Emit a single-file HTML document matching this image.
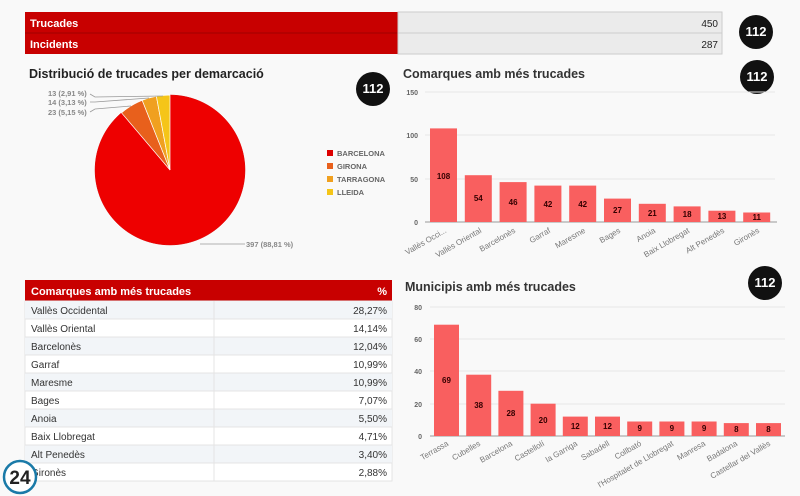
<!DOCTYPE html>
<html><head><meta charset="utf-8"><style>
body{margin:0;width:800px;height:496px;background:#f9f9f9;overflow:hidden;font-family:"Liberation Sans",sans-serif}
svg{position:absolute;left:0;top:0}
</style></head><body>
<svg width="800" height="496" viewBox="0 0 800 496" font-family="Liberation Sans, sans-serif">
<rect width="800" height="496" fill="#f9f9f9"/>
<rect x="25" y="12" width="373" height="42" fill="#c80000"/>
<line x1="25" y1="33" x2="398" y2="33" stroke="#a00000"/>
<rect x="398" y="12" width="324" height="42" fill="#ebebeb" stroke="#ccc"/>
<line x1="398" y1="33" x2="722" y2="33" stroke="#ccc"/>
<text x="30" y="27" fill="#fff" font-size="11" font-weight="bold">Trucades</text>
<text x="30" y="48" fill="#fff" font-size="11" font-weight="bold">Incidents</text>
<text x="718" y="27" fill="#222" font-size="10" text-anchor="end">450</text>
<text x="718" y="48" fill="#222" font-size="10" text-anchor="end">287</text>
<g font-weight="bold" fill="#fff" text-anchor="middle">
<circle cx="756" cy="32" r="17" fill="#111"/><text x="756" y="36" font-size="13">112</text>
<circle cx="373" cy="89" r="17" fill="#111"/><text x="373" y="93" font-size="13">112</text>
<circle cx="757" cy="77" r="17" fill="#111"/><text x="757" y="81" font-size="13">112</text>
<circle cx="765" cy="283" r="17" fill="#111"/><text x="765" y="287" font-size="13">112</text>
</g>
<text x="29" y="78" font-size="12.5" font-weight="bold" fill="#222">Distribució de trucades per demarcació</text>
<path d="M170,170 L170,95 A75,75 0 1 1 121.5,112.8 Z" fill="#ee0000" stroke="#d00" stroke-width="0.5"/>
<path d="M170,170 L121.5,112.8 A75,75 0 0 1 142.2,100.3 Z" fill="#e8601c" stroke="#fff" stroke-width="0.7"/>
<path d="M170,170 L142.2,100.3 A75,75 0 0 1 156.4,96.3 Z" fill="#f0a020" stroke="#fff" stroke-width="0.7"/>
<path d="M170,170 L156.4,96.3 A75,75 0 0 1 170,95 Z" fill="#f5c518" stroke="#fff" stroke-width="0.7"/>
<g stroke="#999" fill="none" stroke-width="0.8">
<polyline points="163,96 95,97 90,94"/><polyline points="149,98 95,102 90,102"/><polyline points="131,106 95,109 90,112"/>
<polyline points="200,244 245,244"/></g>
<g font-size="7.5" fill="#888" font-weight="bold">
<text x="48" y="96">13 (2,91 %)</text><text x="48" y="105">14 (3,13 %)</text><text x="48" y="115">23 (5,15 %)</text>
<text x="246" y="247">397 (88,81 %)</text></g>
<g font-size="7.5" fill="#666" font-weight="bold">
<rect x="327" y="150" width="6" height="6" fill="#dd0000"/><text x="337" y="156">BARCELONA</text>
<rect x="327" y="163" width="6" height="6" fill="#e8601c"/><text x="337" y="169">GIRONA</text>
<rect x="327" y="176" width="6" height="6" fill="#f0a020"/><text x="337" y="182">TARRAGONA</text>
<rect x="327" y="189" width="6" height="6" fill="#f5c518"/><text x="337" y="195">LLEIDA</text></g>
<text x="403" y="78" font-size="12.5" font-weight="bold" fill="#333">Comarques amb més trucades</text>
<g stroke="#e6e6e6"><line x1="425" y1="92" x2="775" y2="92"/><line x1="425" y1="135" x2="775" y2="135"/><line x1="425" y1="179" x2="775" y2="179"/></g>
<line x1="425" y1="222" x2="777" y2="222" stroke="#999"/>
<g font-size="7" fill="#666" text-anchor="end" font-weight="bold"><text x="418" y="95">150</text><text x="418" y="138">100</text><text x="418" y="182">50</text><text x="418" y="225">0</text></g>
<g fill="#f95f5f">
<rect x="430" y="128.4" width="27" height="93.6"/><rect x="464.8" y="175.2" width="27" height="46.8"/><rect x="499.6" y="182.1" width="27" height="39.9"/><rect x="534.4" y="185.6" width="27" height="36.4"/><rect x="569.2" y="185.6" width="27" height="36.4"/><rect x="604" y="198.6" width="27" height="23.4"/><rect x="638.8" y="203.8" width="27" height="18.2"/><rect x="673.6" y="206.4" width="27" height="15.6"/><rect x="708.4" y="210.7" width="27" height="11.3"/><rect x="743.2" y="212.5" width="27" height="9.5"/></g>
<g font-size="8" font-weight="bold" fill="#300" text-anchor="middle">
<text x="443.5" y="179">108</text><text x="478.3" y="201">54</text><text x="513.1" y="205">46</text><text x="547.9" y="207">42</text><text x="582.7" y="207">42</text><text x="617.5" y="213">27</text><text x="652.3" y="216">21</text><text x="687.1" y="217">18</text><text x="721.9" y="219">13</text><text x="756.7" y="220">11</text></g>
<g font-size="8" fill="#777" text-anchor="end">
<text transform="translate(447,232) rotate(-30)">Vallès Occi...</text>
<text transform="translate(482,232) rotate(-30)">Vallès Oriental</text>
<text transform="translate(516,232) rotate(-30)">Barcelonès</text>
<text transform="translate(551,232) rotate(-30)">Garraf</text>
<text transform="translate(586,232) rotate(-30)">Maresme</text>
<text transform="translate(621,232) rotate(-30)">Bages</text>
<text transform="translate(656,232) rotate(-30)">Anoia</text>
<text transform="translate(690,232) rotate(-30)">Baix Llobregat</text>
<text transform="translate(725,232) rotate(-30)">Alt Penedès</text>
<text transform="translate(760,232) rotate(-30)">Gironès</text></g>
<rect x="25" y="280" width="367" height="21" fill="#c80000"/>
<text x="31" y="295" font-size="11" font-weight="bold" fill="#fff">Comarques amb més trucades</text>
<text x="387" y="295" font-size="11" font-weight="bold" fill="#fff" text-anchor="end">%</text>
<g font-size="10" fill="#333">
<rect x="25" y="301" width="367" height="180" fill="#fff" stroke="#e4e4e4"/>
<g fill="#f2f5f8"><rect x="25" y="301" width="367" height="18"/><rect x="25" y="337" width="367" height="18"/><rect x="25" y="373" width="367" height="18"/><rect x="25" y="409" width="367" height="18"/><rect x="25" y="445" width="367" height="18"/></g>
<g stroke="#e4e4e4"><line x1="214" y1="301" x2="214" y2="481"/><line x1="25" y1="319" x2="392" y2="319"/><line x1="25" y1="337" x2="392" y2="337"/><line x1="25" y1="355" x2="392" y2="355"/><line x1="25" y1="373" x2="392" y2="373"/><line x1="25" y1="391" x2="392" y2="391"/><line x1="25" y1="409" x2="392" y2="409"/><line x1="25" y1="427" x2="392" y2="427"/><line x1="25" y1="445" x2="392" y2="445"/><line x1="25" y1="463" x2="392" y2="463"/></g>
<text x="31" y="314">Vallès Occidental</text><text x="31" y="332">Vallès Oriental</text><text x="31" y="350">Barcelonès</text><text x="31" y="368">Garraf</text><text x="31" y="386">Maresme</text><text x="31" y="404">Bages</text><text x="31" y="422">Anoia</text><text x="31" y="440">Baix Llobregat</text><text x="31" y="458">Alt Penedès</text><text x="31" y="476">Gironès</text>
<g text-anchor="end"><text x="387" y="314">28,27%</text><text x="387" y="332">14,14%</text><text x="387" y="350">12,04%</text><text x="387" y="368">10,99%</text><text x="387" y="386">10,99%</text><text x="387" y="404">7,07%</text><text x="387" y="422">5,50%</text><text x="387" y="440">4,71%</text><text x="387" y="458">3,40%</text><text x="387" y="476">2,88%</text></g></g>
<circle cx="20" cy="477" r="16" fill="#fff" stroke="#1a7aa8" stroke-width="2.5"/>
<text x="20" y="484" font-size="19" font-weight="bold" fill="#222" text-anchor="middle">24</text>
<text x="405" y="291" font-size="12.5" font-weight="bold" fill="#333">Municipis amb més trucades</text>
<g stroke="#e6e6e6"><line x1="430" y1="307" x2="785" y2="307"/><line x1="430" y1="339" x2="785" y2="339"/><line x1="430" y1="371" x2="785" y2="371"/><line x1="430" y1="404" x2="785" y2="404"/></g>
<line x1="430" y1="436" x2="785" y2="436" stroke="#999"/>
<g font-size="7" fill="#666" text-anchor="end" font-weight="bold"><text x="422" y="310">80</text><text x="422" y="342">60</text><text x="422" y="374">40</text><text x="422" y="407">20</text><text x="422" y="439">0</text></g>
<g fill="#f95f5f">
<rect x="434" y="324.7" width="25" height="111.3"/><rect x="466.2" y="374.7" width="25" height="61.3"/><rect x="498.4" y="390.8" width="25" height="45.2"/><rect x="530.6" y="403.7" width="25" height="32.3"/><rect x="562.8" y="416.6" width="25" height="19.4"/><rect x="595" y="416.6" width="25" height="19.4"/><rect x="627.2" y="421.5" width="25" height="14.5"/><rect x="659.4" y="421.5" width="25" height="14.5"/><rect x="691.6" y="421.5" width="25" height="14.5"/><rect x="723.8" y="423.1" width="25" height="12.9"/><rect x="756" y="423.1" width="25" height="12.9"/></g>
<g font-size="8" font-weight="bold" fill="#300" text-anchor="middle">
<text x="446.5" y="383">69</text><text x="478.7" y="408">38</text><text x="510.9" y="416">28</text><text x="543.1" y="423">20</text><text x="575.3" y="429">12</text><text x="607.5" y="429">12</text><text x="639.7" y="431">9</text><text x="671.9" y="431">9</text><text x="704.1" y="431">9</text><text x="736.3" y="432">8</text><text x="768.5" y="432">8</text></g>
<g font-size="8" fill="#777" text-anchor="end">
<text transform="translate(449,445) rotate(-30)">Terrassa</text>
<text transform="translate(481,445) rotate(-30)">Cubelles</text>
<text transform="translate(513,445) rotate(-30)">Barcelona</text>
<text transform="translate(545,445) rotate(-30)">Castellolí</text>
<text transform="translate(578,445) rotate(-30)">la Garriga</text>
<text transform="translate(610,445) rotate(-30)">Sabadell</text>
<text transform="translate(642,445) rotate(-30)">Collbató</text>
<text transform="translate(674,445) rotate(-30)">l'Hospitalet de Llobregat</text>
<text transform="translate(706,445) rotate(-30)">Manresa</text>
<text transform="translate(738,445) rotate(-30)">Badalona</text>
<text transform="translate(771,445) rotate(-30)">Castellar del Vallès</text></g>
</svg>
</body></html>
